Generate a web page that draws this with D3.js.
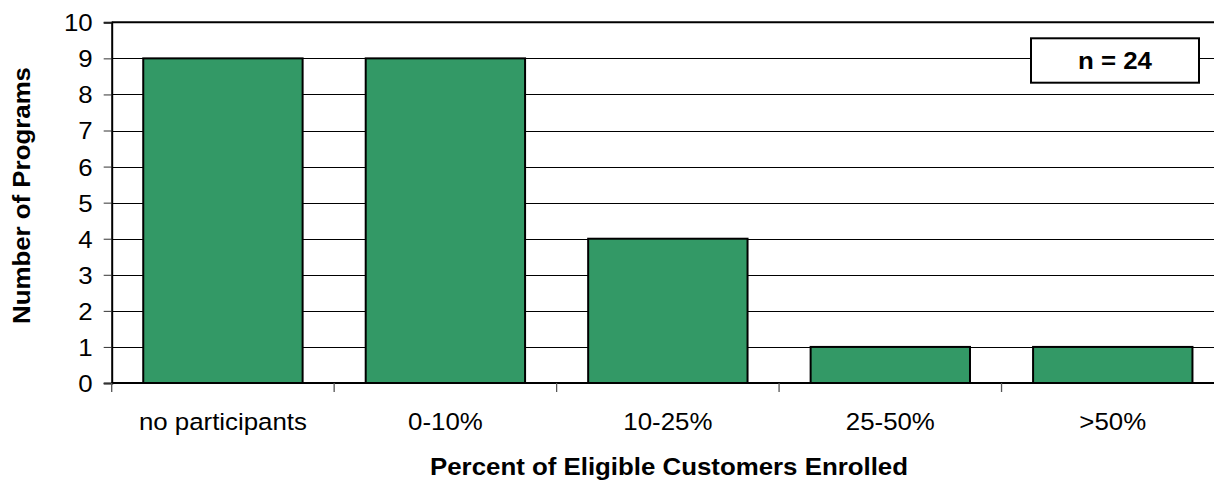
<!DOCTYPE html>
<html>
<head>
<meta charset="utf-8">
<script src="https://cdn.jsdelivr.net/npm/d3@7"></script>
<style>
  html, body { margin: 0; padding: 0; background: #fff; }
  svg { display: block; }
  text { font-family: Arial, "Liberation Sans", sans-serif; fill: #000; }
</style>
</head>
<body>
<svg id="chart" width="1214" height="486"></svg>
<script>
const categories = ["no participants", "0-10%", "10-25%", "25-50%", ">50%"];
const values = [9, 9, 4, 1, 1];
const yTicks = [0, 1, 2, 3, 4, 5, 6, 7, 8, 9, 10];
const yTitle = "Number of Programs";
const xTitle = "Percent of Eligible Customers Enrolled";
const noteText = "n = 24";

const W = 1214, H = 486;
const plot = { left: 111.7, right: 1224, top: 22.3, bottom: 383 };
const SX = 1.1; // horizontal stretch of glyphs in reference

const svg = d3.select("#chart");

const x = d3.scaleBand()
  .domain(categories)
  .range([plot.left, plot.right])
  .paddingInner(0.2836)
  .paddingOuter(0.1418);

const y = d3.scaleLinear().domain([0, 10]).range([plot.bottom, plot.top]);

// gridlines
svg.append("g")
  .selectAll("line")
  .data(yTicks.filter(d => d > 0 && d < 10))
  .join("line")
  .attr("x1", plot.left).attr("x2", plot.right)
  .attr("y1", d => Math.round(y(d)) + 0.5).attr("y2", d => Math.round(y(d)) + 0.5)
  .attr("stroke", "#000").attr("stroke-width", 1);

// top border
svg.append("line")
  .attr("x1", plot.left).attr("x2", plot.right)
  .attr("y1", y(10)).attr("y2", y(10))
  .attr("stroke", "#000").attr("stroke-width", 2);

// bars
svg.append("g")
  .selectAll("rect")
  .data(categories.map((c, i) => ({ c, v: values[i] })))
  .join("rect")
  .attr("x", d => x(d.c))
  .attr("width", x.bandwidth())
  .attr("y", d => y(d.v))
  .attr("height", d => y(0) - y(d.v))
  .attr("fill", "#339966")
  .attr("stroke", "#000")
  .attr("stroke-width", 2);

// y axis
const yAxis = svg.append("g")
  .attr("transform", `translate(${plot.left},0)`)
  .call(d3.axisLeft(y).tickValues(yTicks).tickSize(8).tickPadding(11).tickFormat(d3.format("d")));
yAxis.select(".domain").attr("stroke", "#000").attr("stroke-width", 2);
yAxis.selectAll(".tick line").attr("stroke", "#333").attr("stroke-width", 1);
yAxis.selectAll(".tick text")
  .attr("font-size", 23.5)
  .attr("font-family", "Arial, 'Liberation Sans', sans-serif")
  .attr("dy", "0.36em")
  .each(function() {
    const t = d3.select(this);
    const xx = +t.attr("x");
    t.attr("x", null)
     .attr("transform", `translate(${xx},0) scale(${SX},1)`);
  });

// x axis line
svg.append("line")
  .attr("x1", plot.left).attr("x2", plot.right)
  .attr("y1", y(0)).attr("y2", y(0))
  .attr("stroke", "#000").attr("stroke-width", 2);

// x category boundary ticks
const step = x.step();
const boundaries = d3.range(categories.length + 1).map(i => plot.left + i * step);
svg.append("g")
  .selectAll("line")
  .data(boundaries)
  .join("line")
  .attr("x1", d => d).attr("x2", d => d)
  .attr("y1", y(0)).attr("y2", y(0) + 9)
  .attr("stroke", "#555").attr("stroke-width", 1.3);

// x category labels
svg.append("g")
  .selectAll("text")
  .data(categories)
  .join("text")
  .attr("text-anchor", "middle")
  .attr("font-size", 23.5)
  .attr("transform", d => `translate(${x(d) + x.bandwidth() / 2},430) scale(${SX},1)`)
  .text(d => d);

// x title
svg.append("text")
  .attr("text-anchor", "middle")
  .attr("font-size", 23.5)
  .attr("font-weight", "bold")
  .attr("transform", `translate(669,475) scale(${SX},1)`)
  .text(xTitle);

// y title
svg.append("text")
  .attr("text-anchor", "middle")
  .attr("font-size", 23.5)
  .attr("font-weight", "bold")
  .attr("transform", `translate(30,195.5) rotate(-90) scale(${SX},1)`)
  .text(yTitle);

// note box
const box = { x: 1031, y: 38.3, w: 168, h: 44.4 };
svg.append("rect")
  .attr("x", box.x).attr("y", box.y)
  .attr("width", box.w).attr("height", box.h)
  .attr("fill", "#fff").attr("stroke", "#000").attr("stroke-width", 2);
svg.append("text")
  .attr("text-anchor", "middle")
  .attr("font-size", 23.5)
  .attr("font-weight", "bold")
  .attr("transform", `translate(${box.x + box.w / 2},${box.y + box.h / 2 + 8.5}) scale(${SX},1)`)
  .text(noteText);
</script>
</body>
</html>
